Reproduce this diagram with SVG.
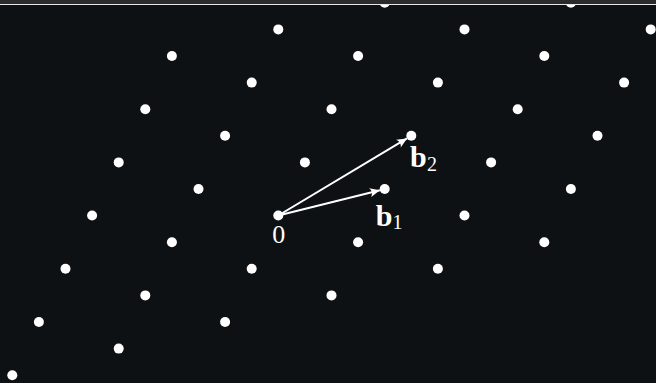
<svg xmlns="http://www.w3.org/2000/svg" width="656" height="383" viewBox="0 0 656 383">
<style>
.dot{fill:#ffffff}
.vec{stroke:#ffffff;stroke-width:2;fill:none}
.lbl{fill:#ffffff;font-family:"Liberation Serif","DejaVu Serif",serif}
.bold{font-weight:bold;font-size:30px}
.sub{font-size:20px}
</style>
<defs>
<clipPath id="area"><rect x="0" y="5" width="656" height="378"/></clipPath>
<marker id="head" viewBox="-11 -5 12 10" refX="0" refY="0" markerWidth="12" markerHeight="10" markerUnits="userSpaceOnUse" orient="auto" overflow="visible">
<path d="M0,0 L-10,-4.5 Q-6.5,0 -10,4.5 Z" fill="#ffffff"/>
</marker>
</defs>
<rect x="0" y="0" width="656" height="383" fill="#0d1114"/>
<rect x="0" y="0" width="656" height="4" fill="#2b2b2b"/>
<line x1="0" y1="4.5" x2="656" y2="4.5" stroke="#e8e8e8" stroke-width="1"/>
<g id="lattice" clip-path="url(#area)">
<circle class="dot" cx="12.3" cy="375.2" r="5"/>
<circle class="dot" cx="38.9" cy="322" r="5"/>
<circle class="dot" cx="65.5" cy="268.8" r="5"/>
<circle class="dot" cx="92.1" cy="215.5" r="5"/>
<circle class="dot" cx="118.7" cy="162.4" r="5"/>
<circle class="dot" cx="145.3" cy="109.2" r="5"/>
<circle class="dot" cx="171.9" cy="56" r="5"/>
<circle class="dot" cx="118.7" cy="348.6" r="5"/>
<circle class="dot" cx="145.3" cy="295.4" r="5"/>
<circle class="dot" cx="171.9" cy="242.2" r="5"/>
<circle class="dot" cx="198.5" cy="189" r="5"/>
<circle class="dot" cx="225.1" cy="135.8" r="5"/>
<circle class="dot" cx="251.7" cy="82.6" r="5"/>
<circle class="dot" cx="278.3" cy="29.4" r="5"/>
<circle class="dot" cx="225.1" cy="322" r="5"/>
<circle class="dot" cx="251.7" cy="268.8" r="5"/>
<circle class="dot" cx="304.9" cy="162.4" r="5"/>
<circle class="dot" cx="331.5" cy="109.2" r="5"/>
<circle class="dot" cx="358.1" cy="56" r="5"/>
<circle class="dot" cx="384.7" cy="2.8" r="5"/>
<circle class="dot" cx="331.5" cy="295.4" r="5"/>
<circle class="dot" cx="358.1" cy="242.2" r="5"/>
<circle class="dot" cx="437.9" cy="82.6" r="5"/>
<circle class="dot" cx="464.5" cy="29.4" r="5"/>
<circle class="dot" cx="437.9" cy="268.8" r="5"/>
<circle class="dot" cx="464.5" cy="215.5" r="5"/>
<circle class="dot" cx="491.1" cy="162.4" r="5"/>
<circle class="dot" cx="517.7" cy="109.2" r="5"/>
<circle class="dot" cx="544.3" cy="56" r="5"/>
<circle class="dot" cx="570.9" cy="2.8" r="5"/>
<circle class="dot" cx="544.3" cy="242.2" r="5"/>
<circle class="dot" cx="570.9" cy="189" r="5"/>
<circle class="dot" cx="597.5" cy="135.8" r="5"/>
<circle class="dot" cx="624.1" cy="82.6" r="5"/>
<circle class="dot" cx="650.7" cy="29.4" r="5"/>
</g>
<g id="origin">
<circle class="dot" cx="278.3" cy="215.5" r="5"/>
<text class="lbl" x="278.7" y="243" font-size="26" text-anchor="middle">0</text>
</g>
<g id="b1">
<circle class="dot" cx="384.7" cy="189" r="5"/>
<text class="lbl" x="375.8" y="226"><tspan class="bold">b</tspan><tspan class="sub" x="392.5" dy="3">1</tspan></text>
</g>
<g id="b2">
<circle class="dot" cx="411.3" cy="135.8" r="5"/>
<text class="lbl" x="410" y="166.7"><tspan class="bold">b</tspan><tspan class="sub" x="427" dy="4">2</tspan></text>
</g>
<g id="connectors">
<line class="vec" x1="278.3" y1="215.5" x2="379.9" y2="190.2" marker-end="url(#head)"/>
<line class="vec" x1="278.3" y1="215.5" x2="407.0" y2="138.4" marker-end="url(#head)"/>
</g>
</svg>
